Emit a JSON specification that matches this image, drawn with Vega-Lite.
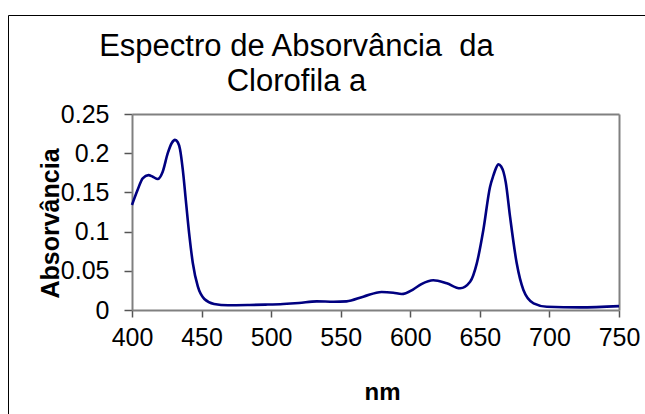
{
  "$schema": "https://vega.github.io/schema/vega-lite/v6.json",
  "width": 637,
  "height": 399,
  "autosize": {"type": "none"},
  "padding": {"left": 8, "top": 15, "right": 0, "bottom": 0},
  "background": "white",
  "config": {
    "font": "Liberation Sans",
    "view": {"stroke": "black", "strokeWidth": 1}
  },
  "title": {
    "text": ["Espectro de Absorvância \u00a0da", "Clorofila a"],
    "font": "Liberation Sans",
    "fontSize": 31,
    "fontWeight": "normal",
    "color": "black",
    "lineHeight": 35,
    "anchor": "middle",
    "dx": -30,
    "offset": -83
  },
  "data": {
    "values": [
      {"nm": 400, "A": 0.134},
      {"nm": 404, "A": 0.153},
      {"nm": 407.7, "A": 0.168},
      {"nm": 411.8, "A": 0.172},
      {"nm": 414.9, "A": 0.170},
      {"nm": 418.5, "A": 0.167},
      {"nm": 422, "A": 0.176},
      {"nm": 425.7, "A": 0.200},
      {"nm": 428.6, "A": 0.213},
      {"nm": 430.9, "A": 0.217},
      {"nm": 432.9, "A": 0.214},
      {"nm": 434.5, "A": 0.205},
      {"nm": 436.5, "A": 0.179},
      {"nm": 438.9, "A": 0.136},
      {"nm": 441.3, "A": 0.094},
      {"nm": 443.7, "A": 0.060},
      {"nm": 447.3, "A": 0.030},
      {"nm": 452, "A": 0.014},
      {"nm": 459, "A": 0.0077},
      {"nm": 469, "A": 0.006},
      {"nm": 484.6, "A": 0.0064},
      {"nm": 496, "A": 0.0069},
      {"nm": 508.6, "A": 0.0077},
      {"nm": 520, "A": 0.009},
      {"nm": 532.7, "A": 0.011},
      {"nm": 545, "A": 0.0105},
      {"nm": 554.2, "A": 0.011},
      {"nm": 566.2, "A": 0.017},
      {"nm": 579.4, "A": 0.023},
      {"nm": 587.8, "A": 0.022},
      {"nm": 593.8, "A": 0.0204},
      {"nm": 602.2, "A": 0.0264},
      {"nm": 608, "A": 0.033},
      {"nm": 616.5, "A": 0.038},
      {"nm": 626.2, "A": 0.034},
      {"nm": 635.8, "A": 0.0277},
      {"nm": 643, "A": 0.036},
      {"nm": 647.8, "A": 0.0595},
      {"nm": 652.5, "A": 0.102},
      {"nm": 657.3, "A": 0.157},
      {"nm": 659.8, "A": 0.172},
      {"nm": 661.6, "A": 0.181},
      {"nm": 663.3, "A": 0.186},
      {"nm": 665.3, "A": 0.183},
      {"nm": 667, "A": 0.176},
      {"nm": 668.6, "A": 0.163},
      {"nm": 671.7, "A": 0.119},
      {"nm": 676.5, "A": 0.0595},
      {"nm": 681.3, "A": 0.0255},
      {"nm": 688.6, "A": 0.0085},
      {"nm": 698.2, "A": 0.0042},
      {"nm": 722, "A": 0.0034},
      {"nm": 750, "A": 0.005}
    ]
  },
  "layer": [
    {
      "mark": {"type": "line", "interpolate": "monotone", "color": "#000080", "strokeWidth": 2.6},
      "encoding": {
        "x": {
          "field": "nm", "type": "quantitative",
          "scale": {"domain": [400, 750], "range": [124, 611], "nice": false, "zero": false},
          "axis": {
            "orient": "bottom", "offset": -104, "values": [400, 450, 500, 550, 600, 650, 700, 750],
            "title": "nm", "titleFontSize": 24, "titleFontWeight": "bold", "titleColor": "black", "titlePadding": 30,
            "titleX": 374,
            "labelFontSize": 25, "labelColor": "black", "labelPadding": 8, "labelFlush": false, "labelOverlap": false,
            "domainColor": "#808080", "domainWidth": 2, "tickColor": "#555555", "tickWidth": 1.5, "tickSize": 7,
            "grid": false
          }
        },
        "y": {
          "field": "A", "type": "quantitative",
          "scale": {"domain": [0, 0.25], "range": [295, 99], "nice": false, "zero": false},
          "axis": {
            "orient": "left", "offset": -124, "values": [0, 0.05, 0.1, 0.15, 0.2, 0.25], "format": "~g",
            "title": "Absorvância", "titleFontSize": 25, "titleFontWeight": "bold", "titleColor": "black", "titlePadding": -3,
            "titleY": 208,
            "labelFontSize": 25, "labelColor": "black", "labelPadding": 15, "labelFlush": false, "labelOverlap": false,
            "domainColor": "#808080", "domainWidth": 2, "tickColor": "#555555", "tickWidth": 1.5, "tickSize": 8,
            "grid": false
          }
        }
      }
    },
    {
      "mark": {"type": "line", "opacity": 0},
      "encoding": {
        "x": {
          "field": "nm", "type": "quantitative",
          "scale": {"domain": [400, 750], "range": [124, 611], "nice": false, "zero": false},
          "axis": {"orient": "top", "offset": -99, "labels": false, "ticks": false, "title": null, "grid": false, "domainColor": "#808080", "domainWidth": 2}
        },
        "y": {
          "field": "A", "type": "quantitative",
          "scale": {"domain": [0, 0.25], "range": [295, 99], "nice": false, "zero": false},
          "axis": {"orient": "right", "offset": -26, "labels": false, "ticks": false, "title": null, "grid": false, "domainColor": "#808080", "domainWidth": 2}
        }
      }
    }
  ],
  "resolve": {"axis": {"x": "independent", "y": "independent"}}
}
